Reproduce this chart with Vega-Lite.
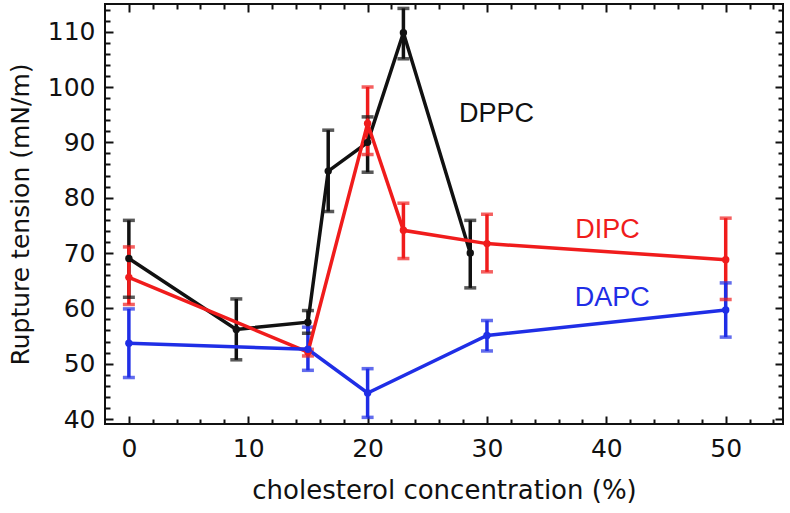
{
  "$schema": "https://vega.github.io/schema/vega-lite/v6.json",
  "width": 678,
  "height": 420,
  "autosize": {"type": "none"},
  "padding": {"left": 105, "top": 4, "right": 7, "bottom": 89},
  "background": "white",
  "datasets": {
    "points": [
      {"lipid": "DPPC", "chol": 0, "tension": 69.0, "lo": 62.0, "hi": 75.9},
      {"lipid": "DPPC", "chol": 9, "tension": 56.2, "lo": 50.7, "hi": 61.7},
      {"lipid": "DPPC", "chol": 15, "tension": 57.5, "lo": 55.5, "hi": 59.6},
      {"lipid": "DPPC", "chol": 16.7, "tension": 84.8, "lo": 77.5, "hi": 92.2},
      {"lipid": "DPPC", "chol": 20, "tension": 90.0, "lo": 84.6, "hi": 94.6},
      {"lipid": "DPPC", "chol": 23, "tension": 109.8, "lo": 105.1, "hi": 114.2},
      {"lipid": "DPPC", "chol": 28.6, "tension": 70.0, "lo": 63.7, "hi": 75.9},
      {"lipid": "DIPC", "chol": 0, "tension": 65.6, "lo": 60.7, "hi": 71.1},
      {"lipid": "DIPC", "chol": 15, "tension": 52.1, "lo": 51.4, "hi": 52.6},
      {"lipid": "DIPC", "chol": 20, "tension": 93.4, "lo": 87.8, "hi": 100.0},
      {"lipid": "DIPC", "chol": 23, "tension": 74.1, "lo": 69.0, "hi": 79.0},
      {"lipid": "DIPC", "chol": 30, "tension": 71.7, "lo": 66.6, "hi": 77.0},
      {"lipid": "DIPC", "chol": 50, "tension": 68.8, "lo": 61.6, "hi": 76.3},
      {"lipid": "DAPC", "chol": 0, "tension": 53.7, "lo": 47.5, "hi": 59.9},
      {"lipid": "DAPC", "chol": 15, "tension": 52.6, "lo": 48.8, "hi": 56.6},
      {"lipid": "DAPC", "chol": 20, "tension": 44.7, "lo": 40.3, "hi": 49.1},
      {"lipid": "DAPC", "chol": 30, "tension": 55.1, "lo": 52.3, "hi": 57.8},
      {"lipid": "DAPC", "chol": 50, "tension": 59.7, "lo": 54.8, "hi": 64.6}
    ],
    "labels": [
      {"lipid": "DPPC", "chol": 30.8, "tension": 95.2},
      {"lipid": "DIPC", "chol": 40.1, "tension": 74.1},
      {"lipid": "DAPC", "chol": 40.5, "tension": 61.8}
    ]
  },
  "data": {"name": "points"},
  "encoding": {
    "x": {"field": "chol", "type": "quantitative"},
    "y": {"field": "tension", "type": "quantitative"},
    "color": {
      "field": "lipid",
      "type": "nominal",
      "scale": {"domain": ["DPPC", "DIPC", "DAPC"], "range": ["#111111", "#f01c1c", "#1f2ee6"]},
      "legend": null
    }
  },
  "layer": [
    {
      "mark": {"type": "rule", "strokeWidth": 3.5},
      "encoding": {
        "x": {
          "field": "chol",
          "type": "quantitative",
          "scale": {"domain": [-2, 54.8], "nice": false, "zero": false},
          "axis": {
            "orient": "bottom",
            "title": "cholesterol concentration (%)",
            "titleFontSize": 26,
            "values": [0, 2, 4, 6, 8, 10, 12, 14, 16, 18, 20, 22, 24, 26, 28, 30, 32, 34, 36, 38, 40, 42, 44, 46, 48, 50, 52, 54],
            "labelExpr": "datum.value % 10 === 0 ? datum.label : ''",
            "tickSize": {"condition": {"test": "datum.value % 10 === 0", "value": -8}, "value": -5},
            "labelPadding": 20,
            "titlePadding": 16
          }
        },
        "y": {
          "field": "lo",
          "type": "quantitative",
          "scale": {"domain": [39.1, 115], "nice": false, "zero": false},
          "title": "Rupture tension (mN/m)",
          "axis": {
            "orient": "left",
            "titleFontSize": 25,
            "values": [40, 42, 44, 46, 48, 50, 52, 54, 56, 58, 60, 62, 64, 66, 68, 70, 72, 74, 76, 78, 80, 82, 84, 86, 88, 90, 92, 94, 96, 98, 100, 102, 104, 106, 108, 110, 112, 114],
            "labelExpr": "datum.value % 10 === 0 ? datum.label : ''",
            "tickSize": {"condition": {"test": "datum.value % 10 === 0", "value": -8}, "value": -5},
            "labelPadding": 18,
            "titlePadding": 14
          }
        },
        "y2": {"field": "hi"}
      }
    },
    {
      "mark": {"type": "tick", "orient": "horizontal", "size": 12, "thickness": 3.5},
      "encoding": {
        "x": {"field": "chol", "type": "quantitative", "axis": null},
        "y": {"field": "lo", "type": "quantitative", "axis": null}
      }
    },
    {
      "mark": {"type": "tick", "orient": "horizontal", "size": 12, "thickness": 3.5},
      "encoding": {
        "x": {"field": "chol", "type": "quantitative", "axis": null},
        "y": {"field": "hi", "type": "quantitative", "axis": null}
      }
    },
    {
      "mark": {"type": "line", "strokeWidth": 3.5},
      "encoding": {
        "x": {
          "field": "chol",
          "type": "quantitative",
          "axis": {
            "orient": "top",
            "title": null,
            "labels": false,
            "values": [0, 2, 4, 6, 8, 10, 12, 14, 16, 18, 20, 22, 24, 26, 28, 30, 32, 34, 36, 38, 40, 42, 44, 46, 48, 50, 52, 54],
            "tickSize": {"condition": {"test": "datum.value % 10 === 0", "value": -8}, "value": -5}
          }
        },
        "y": {
          "field": "tension",
          "type": "quantitative",
          "axis": {
            "orient": "right",
            "title": null,
            "labels": false,
            "values": [40, 42, 44, 46, 48, 50, 52, 54, 56, 58, 60, 62, 64, 66, 68, 70, 72, 74, 76, 78, 80, 82, 84, 86, 88, 90, 92, 94, 96, 98, 100, 102, 104, 106, 108, 110, 112, 114],
            "tickSize": {"condition": {"test": "datum.value % 10 === 0", "value": -8}, "value": -5}
          }
        }
      }
    },
    {
      "mark": {"type": "point", "filled": true, "opacity": 1, "size": 55},
      "encoding": {
        "x": {"field": "chol", "type": "quantitative", "axis": null},
        "y": {"field": "tension", "type": "quantitative", "axis": null}
      }
    },
    {
      "data": {"name": "labels"},
      "mark": {"type": "text", "fontSize": 27, "font": "Liberation Sans"},
      "encoding": {
        "x": {"field": "chol", "type": "quantitative", "axis": null},
        "y": {"field": "tension", "type": "quantitative", "axis": null},
        "text": {"field": "lipid"}
      }
    }
  ],
  "resolve": {"axis": {"x": "independent", "y": "independent"}},
  "config": {
    "view": {"stroke": "#111111", "strokeWidth": 2},
    "axis": {
      "domain": false,
      "grid": false,
      "tickColor": "#111111",
      "tickWidth": 2,
      "labelFont": "DejaVu Sans",
      "labelFontSize": 25,
      "labelColor": "#111111",
      "titleFont": "DejaVu Sans",
      "titleFontWeight": "normal",
      "titleColor": "#111111"
    }
  }
}
